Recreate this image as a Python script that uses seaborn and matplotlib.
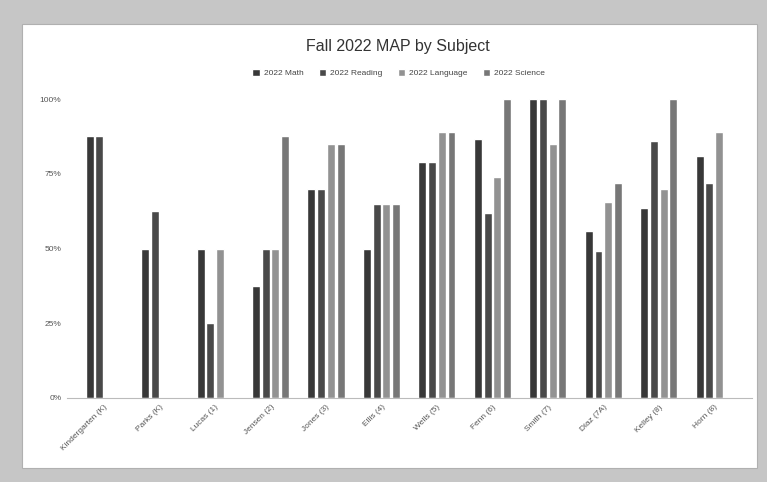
import numpy as np
import pandas as pd
import seaborn as sns
import matplotlib.pyplot as plt
from matplotlib.patches import Rectangle

# classes (x axis) and % meeting goal per subject
classes = ["Kindergarten (K)", "Parks (K)", "Lucas (1)", "Jensen (2)",
           "Jones (3)", "Ellis (4)", "Wells (5)", "Fenn (6)",
           "Smith (7)", "Diaz (7A)", "Kelley (8)", "Horn (8)"]
subjects = ["2022 Math", "2022 Reading", "2022 Language", "2022 Science"]

math = [87.5, 50, 50, 37.5, 70, 50, 79, 86.7, 100, 56, 63.5, 81]
reading = [87.5, 62.5, 25, 50, 70, 65, 79, 62, 100, 49, 86, 72]
language = [np.nan, np.nan, 50, 50, 85, 65, 88.9, 74, 85, 65.5, 70, 89]
science = [np.nan, np.nan, np.nan, 87.5, 85, 65, 88.9, 100, 100, 72, 100, np.nan]

colors = ["#383838", "#494949", "#929292", "#777777"]

df = pd.DataFrame({"class": classes, subjects[0]: math, subjects[1]: reading,
                   subjects[2]: language, subjects[3]: science})
long = df.melt(id_vars="class", var_name="subject", value_name="pct")

sns.set_style("white")
plt.rcParams['font.family'] = ['Liberation Sans', 'DejaVu Sans']

fig = plt.figure(figsize=(7.67, 4.82), dpi=100)
fig.patch.set_facecolor("#c6c6c6")
W, H = 767, 482
# white page inside the scanned grey frame
fig.patches.append(Rectangle((22 / W, 1 - 468 / H), (757 - 22) / W, (468 - 24) / H,
                             transform=fig.transFigure, facecolor="white",
                             edgecolor="#b0b0b0", linewidth=0.8, zorder=-10))

ax = fig.add_axes([67 / W, 1 - 398 / H, (752 - 67) / W, (398 - 99) / H])
ax.set_facecolor("white")

sns.barplot(data=long, x="class", y="pct", hue="subject", order=classes,
            hue_order=subjects, palette=colors, width=0.7, gap=0.18,
            errorbar=None, ax=ax, legend=False, saturation=1)

ax.set_xlim(-0.67, 11.68)
ax.set_ylim(0, 100)
ax.set_yticks([0, 25, 50, 75, 100])
ax.set_yticklabels(["0%", "25%", "50%", "75%", "100%"], fontsize=6, color="#555555")
ax.set_xticks(range(len(classes)))
ax.set_xticklabels(classes, rotation=45, ha="right", rotation_mode="anchor",
                   fontsize=6, color="#555555")
ax.tick_params(axis="both", length=0, pad=4)
ax.set_xlabel("")
ax.set_ylabel("")
for s in ["top", "right", "left"]:
    ax.spines[s].set_visible(False)
ax.spines["bottom"].set_color("#bbbbbb")
ax.spines["bottom"].set_linewidth(0.8)

fig.text(0.519, 1 - 46 / H, "Fall 2022 MAP by Subject", ha="center", va="center",
         fontsize=11.5, color="#333333")

handles = [Rectangle((0, 0), 1, 1, facecolor=c) for c in colors]
fig.legend(handles, subjects, loc="center", bbox_to_anchor=(0.52, 1 - 73 / H),
           ncol=4, frameon=False, fontsize=6, handlelength=0.9, handleheight=0.9,
           handletextpad=0.5, columnspacing=1.8, labelcolor="#444444")

fig.savefig("out.png", dpi=100, facecolor=fig.get_facecolor())
